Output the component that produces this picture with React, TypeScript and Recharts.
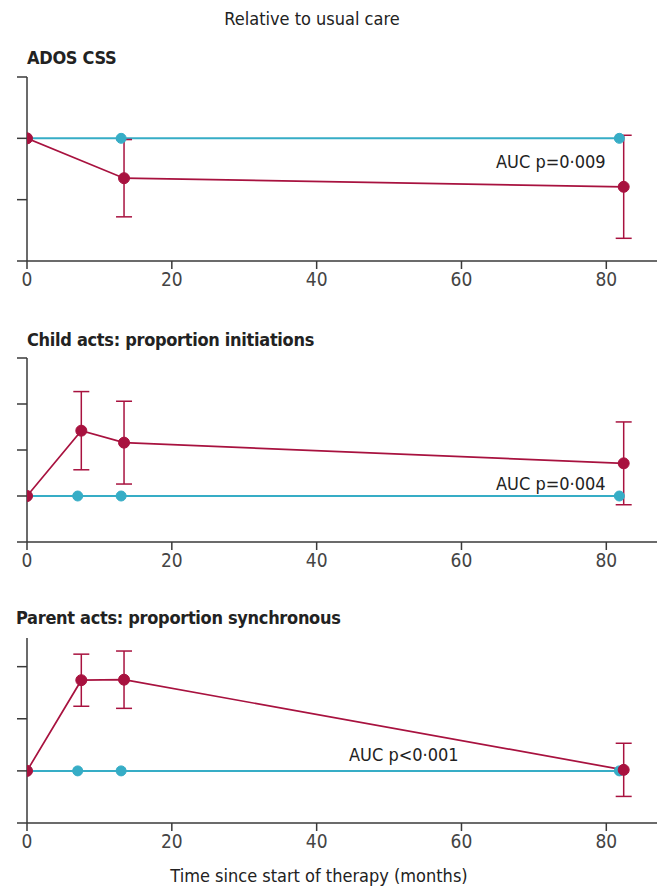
import { LineChart, Line, XAxis, YAxis, ErrorBar } from 'recharts'

const xTicks = [0, 20, 40, 60, 80]

// panel 1: ADOS CSS
const adosBlue = [{ x: 0, y: 0 }, { x: 13, y: 0 }, { x: 81.8, y: 0 }]
const adosRed = [
  { x: 0, y: 0, err: 0 },
  { x: 13.4, y: -0.65, err: 0.63 },
  { x: 82.4, y: -0.79, err: 0.84 },
]

// panel 2: child initiations
const childBlue = [{ x: 0, y: 0 }, { x: 7, y: 0 }, { x: 13, y: 0 }, { x: 81.8, y: 0 }]
const childRed = [
  { x: 0, y: 0, err: 0 },
  { x: 7.5, y: 1.42, err: 0.85 },
  { x: 13.4, y: 1.16, err: 0.9 },
  { x: 82.4, y: 0.71, err: 0.9 },
]

// panel 3: parent synchronous
const parentBlue = [{ x: 0, y: 0 }, { x: 7, y: 0 }, { x: 13, y: 0 }, { x: 81.8, y: 0 }]
const parentRed = [
  { x: 0, y: 0, err: 0 },
  { x: 7.5, y: 1.74, err: 0.5 },
  { x: 13.4, y: 1.75, err: 0.55 },
  { x: 82.4, y: 0.02, err: 0.51 },
]

const RED = '#a8123f'
const BLUE = '#36adc6'
const AXIS = '#3a3a3a'
const FONT = '"Liberation Sans Narrow", "DejaVu Sans Condensed", sans-serif'

interface PanelProps {
  top: number
  blue: { x: number; y: number }[]
  red: { x: number; y: number; err: number }[]
  domain: [number, number]
  yTicks: number[]
  height: number
}

function Panel({ top, blue, red, domain, yTicks, height }: PanelProps) {
  return (
    <div style={{ position: 'absolute', left: 0, top }}>
      <LineChart width={657} height={height} margin={{ top: 17, right: 0, bottom: 0, left: 0 }}>
        <XAxis
          type="number"
          dataKey="x"
          domain={[0, 87]}
          ticks={xTicks}
          allowDataOverflow
          stroke={AXIS}
          strokeWidth={1.5}
          tickSize={8}
          tickMargin={4}
          height={40}
          tick={{ fill: '#444', fontSize: 19, fontFamily: FONT }}
        />
        <YAxis
          type="number"
          dataKey="y"
          domain={domain}
          ticks={yTicks}
          allowDataOverflow
          width={27}
          stroke={AXIS}
          strokeWidth={1.5}
          tickSize={10}
          tickFormatter={() => ''}
        />
        <Line
          data={blue}
          dataKey="y"
          stroke={BLUE}
          strokeWidth={2}
          dot={{ r: 5, fill: BLUE, stroke: BLUE, strokeWidth: 1 }}
          isAnimationActive={false}
        />
        <Line
          data={red}
          dataKey="y"
          stroke={RED}
          strokeWidth={1.7}
          dot={{ r: 5.5, fill: RED, stroke: RED, strokeWidth: 1 }}
          isAnimationActive={false}
        >
          <ErrorBar dataKey="err" width={8} stroke={RED} strokeWidth={1.5} direction="y" />
        </Line>
      </LineChart>
    </div>
  )
}

const label = (text: string, left: number, top: number, size: number, bold = false, extra = {}) => (
  <div
    style={{
      position: 'absolute',
      left,
      top,
      fontSize: size,
      lineHeight: `${size + 2}px`,
      fontWeight: bold ? 700 : 400,
      fontFamily: FONT,
      color: '#222',
      whiteSpace: 'nowrap',
      ...extra,
    }}
  >
    {text}
  </div>
)

const titleStyle = { letterSpacing: '-0.3px' }

export default function App() {
  return (
    <div style={{ position: 'absolute', left: 0, top: 0, width: 657, height: 889, overflow: 'hidden', background: '#fff' }}>
      {label('Relative to usual care', 0, 9, 18, false, { width: 624, textAlign: 'center' })}
      <Panel top={60} blue={adosBlue} red={adosRed} domain={[-2, 1]} yTicks={[-2, -1, 0, 1]} height={241} />
      <Panel top={341} blue={childBlue} red={childRed} domain={[-1, 3]} yTicks={[-1, 0, 1, 2, 3]} height={241} />
      <Panel top={621} blue={parentBlue} red={parentRed} domain={[-1, 2.55]} yTicks={[-1, 0, 1, 2]} height={242} />
      {label('ADOS CSS', 27, 48, 18, true, titleStyle)}
      {label('Child acts: proportion initiations', 27, 330, 18, true, titleStyle)}
      {label('Parent acts: proportion synchronous', 16, 608, 18, true, titleStyle)}
      {label('AUC p=0·009', 496, 152, 18)}
      {label('AUC p=0·004', 496, 474, 18)}
      {label('AUC p<0·001', 349, 745, 18)}
      {label('Time since start of therapy (months)', 0, 866, 18, false, { width: 638, textAlign: 'center' })}
    </div>
  )
}
